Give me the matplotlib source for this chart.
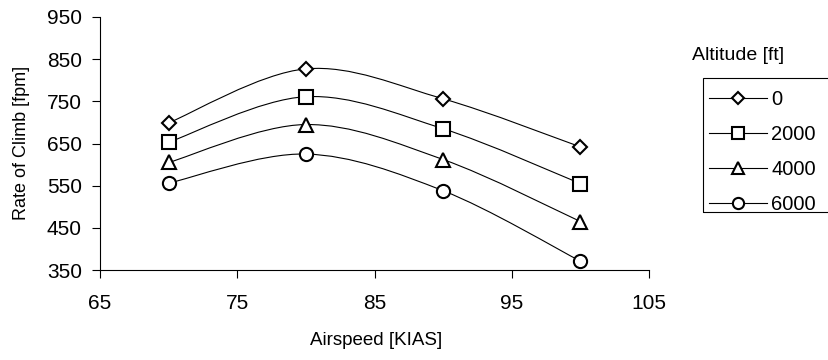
import matplotlib.pyplot as plt
import numpy as np
from matplotlib.path import Path
from matplotlib.patches import PathPatch, Rectangle
from matplotlib.lines import Line2D

plt.rcParams['font.family'] = ['Liberation Sans', 'DejaVu Sans']

# data
airspeed = [70, 80, 90, 100]
altitudes = ['0', '2000', '4000', '6000']
roc_0 = [699, 827, 756, 642]
roc_2000 = [653, 761, 685, 555]
roc_4000 = [605, 695, 612, 465]
roc_6000 = [556, 625, 538, 371]
series = [roc_0, roc_2000, roc_4000, roc_6000]
markers = ['D', 's', '^', 'o']
msizes = [7.5, 9.5, 9.5, 9.5]

yticks = [350, 450, 550, 650, 750, 850, 950]
xticks = [65, 75, 85, 95, 105]


def smooth_path(x, y):
    # excel style smoothed line: bezier segments, tangent = (p[i+1]-p[i-1])/6
    x = np.asarray(x, float)
    y = np.asarray(y, float)
    n = len(x)
    verts = [(x[0], y[0])]
    codes = [Path.MOVETO]
    for i in range(n - 1):
        i0 = max(i - 1, 0)
        i3 = min(i + 2, n - 1)
        c1 = (x[i] + (x[i + 1] - x[i0]) / 6, y[i] + (y[i + 1] - y[i0]) / 6)
        c2 = (x[i + 1] - (x[i3] - x[i]) / 6, y[i + 1] - (y[i3] - y[i]) / 6)
        verts += [c1, c2, (x[i + 1], y[i + 1])]
        codes += [Path.CURVE4] * 3
    return Path(verts, codes)


fig = plt.figure(figsize=(8.29, 3.6), dpi=100)
ax = fig.add_axes([100 / 829, 90 / 360, 549 / 829, 253 / 360])

handles = []
for vals, m, ms, lab in zip(series, markers, msizes, altitudes):
    ax.add_patch(PathPatch(smooth_path(airspeed, vals), facecolor='none',
                           edgecolor='black', lw=0.8, zorder=2))
    ax.plot(airspeed, vals, ls='none', marker=m, ms=ms, mfc='white',
            mec='black', mew=1.5, zorder=3, clip_on=False)
    handles.append(Line2D([], [], color='black', lw=0.8, marker=m, ms=ms * 0.85,
                          mfc='white', mec='black', mew=1.5, label=lab))

ax.set_xlim(65, 105)
ax.set_ylim(350, 950)
ax.set_xticks(xticks)
ax.set_yticks(yticks)
ax.tick_params(direction='out', length=6, width=0.8, labelsize=15)
ax.tick_params(axis='x', pad=11)
ax.tick_params(axis='y', pad=7)
for s in ['top', 'right']:
    ax.spines[s].set_visible(False)
for s in ['left', 'bottom']:
    ax.spines[s].set_linewidth(0.8)

ax.set_xlabel('Airspeed [KIAS]', fontsize=13.5)
ax.set_ylabel('Rate of Climb [fpm]', fontsize=13)
ax.xaxis.set_label_coords(0.503, -0.245)
ax.yaxis.set_label_coords(-0.128, 0.502)

fig.text(692 / 829, 1 - 56 / 360, 'Altitude [ft]', fontsize=14,
         ha='left', va='center')
leg = fig.legend(handles=handles, loc='upper left',
                 bbox_to_anchor=(703 / 829, 1 - 84 / 360),
                 fontsize=14.5, frameon=False,
                 handlelength=2.9, handletextpad=0.2, labelspacing=0.8,
                 borderpad=0.3, borderaxespad=0)
fig.add_artist(Rectangle((703 / 829, 1 - 212 / 360), 200 / 829, 134 / 360,
                         transform=fig.transFigure, fill=False,
                         edgecolor='black', lw=0.8))

fig.savefig('out.png', dpi=100)
